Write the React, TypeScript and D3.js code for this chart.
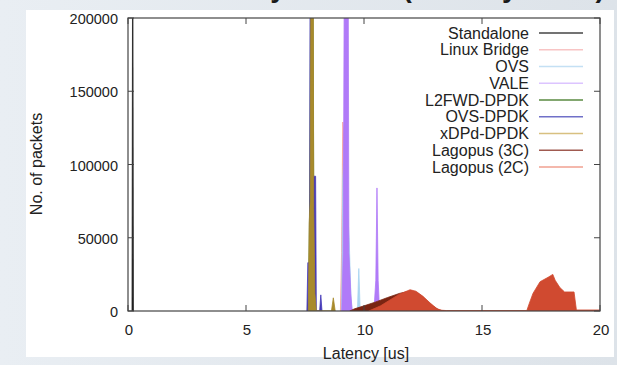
import { useEffect, useRef } from 'react';
import * as d3 from 'd3';

type Pt = [number, number];

// latency [us], packets
const standalone: Pt[] = [[0.17, 0], [0.2, 300000], [0.23, 0]];
const linuxBridge: Pt[] = [[9.0, 0], [9.05, 40000], [9.1, 129000], [9.16, 120000], [9.25, 30000], [9.35, 0]];
const ovs: Pt[] = [
  [9.05, 0], [9.1, 90000], [9.2, 128000], [9.3, 70000], [9.37, 50000], [9.45, 8000], [9.5, 0],
  [9.72, 0], [9.78, 29000], [9.84, 0],
];
const vale: Pt[] = [
  [9.06, 0], [9.12, 40000], [9.18, 300000], [9.32, 300000], [9.36, 40000], [9.44, 12000], [9.5, 0],
  [10.42, 0], [10.5, 21000], [10.55, 84000], [10.6, 21000], [10.66, 0],
];
const l2fwd: Pt[] = [[7.64, 0], [7.7, 80000], [7.76, 300000], [7.82, 300000], [7.88, 40000], [7.94, 0]];
const ovsDpdk: Pt[] = [
  [7.58, 0], [7.62, 33000], [7.7, 33000], [7.72, 300000], [7.8, 300000], [7.82, 92000], [7.95, 92000], [7.98, 0],
  [8.12, 0], [8.17, 11000], [8.22, 0],
];
const xdpd: Pt[] = [
  [7.64, 0], [7.68, 60000], [7.72, 75000], [7.76, 300000], [7.84, 300000], [7.87, 70000], [7.92, 12000], [7.98, 0],
  [8.62, 0], [8.7, 9000], [8.78, 0],
];
const lagopus3c: Pt[] = [
  [9.4, 0], [9.6, 1500], [10, 3500], [10.5, 6200], [11, 9200], [11.5, 12000], [12, 13800], [12.3, 12000],
  [12.6, 8000], [12.9, 3500], [13.2, 500], [13.4, 0],
];
const lagopus2c: Pt[] = [
  [10.2, 0], [10.7, 3500], [11.1, 7500], [11.5, 11500], [11.8, 13500], [11.95, 14500], [12.2, 13500], [12.5, 10000],
  [12.8, 5500], [13.1, 1500], [13.3, 500], [13.5, 300], [16.9, 300], [17.0, 5000], [17.16, 12000], [17.46, 20000],
  [17.8, 23000], [18.0, 25000], [18.1, 21000], [18.3, 16000], [18.5, 13000], [18.9, 13000], [19.0, 700], [20, 700],
];

const seriesNames = ['Standalone', 'Linux Bridge', 'OVS', 'VALE', 'L2FWD-DPDK', 'OVS-DPDK', 'xDPd-DPDK', 'Lagopus (3C)', 'Lagopus (2C)'];
const seriesData = [standalone, linuxBridge, ovs, vale, l2fwd, ovsDpdk, xdpd, lagopus3c, lagopus2c];
const fillColors = ['#222222', '#f4a0a0', '#a8d4f0', '#b07af8', '#4a7a2a', '#4438b8', '#a88a2c', '#7a2412', '#d04a30'];
const legendColors = ['#444444', '#f8c4c4', '#c4e0f4', '#dcc4ff', '#5a8a40', '#7070c8', '#d8c080', '#a05a50', '#f0a090'];

const xTicks = [0, 5, 10, 15, 20];
const yTicks = [0, 50000, 100000, 150000, 200000];

export default function App() {
  const svgRef = useRef<SVGSVGElement>(null);
  const width = 617;
  const height = 365;

  useEffect(() => {
    if (!svgRef.current) return;
    const svg = d3.select(svgRef.current);
    svg.selectAll('*').remove();

    const left = 128, right = 600, top = 18, bottom = 311;
    const x = d3.scaleLinear().domain([0, 20]).range([left, right]);
    const y = d3.scaleLinear().domain([0, 200000]).range([bottom, top]);
    const font = '"Liberation Sans", Arial, sans-serif';

    // slide background
    const defs = svg.append('defs');
    const grad = defs.append('linearGradient').attr('id', 'bg');
    grad.append('stop').attr('offset', '0%').attr('stop-color', '#e9eef3');
    grad.append('stop').attr('offset', '100%').attr('stop-color', '#dde3e9');
    svg.append('rect').attr('width', width).attr('height', height).attr('fill', 'url(#bg)');
    svg.append('rect').attr('x', 26).attr('y', 10).attr('width', 588).attr('height', 347).attr('fill', '#fff');

    // slide title, mostly above the visible area
    svg.append('text')
      .attr('x', 180).attr('y', -3)
      .style('font-family', font).style('font-weight', 'bold').style('font-size', '28px').style('fill', '#1a1a1a')
      .text('Latency Results (Latency in 1G)');

    defs.append('clipPath').attr('id', 'plot')
      .append('rect').attr('x', left).attr('y', top).attr('width', right - left).attr('height', bottom - top);

    const area = d3.area<Pt>().x((d) => x(d[0])).y0(y(0)).y1((d) => y(d[1]));
    const g = svg.append('g').attr('clip-path', 'url(#plot)');
    seriesData.forEach((data, i) => {
      g.append('path')
        .attr('d', area(data) as string)
        .attr('fill', fillColors[i])
        .attr('stroke', fillColors[i])
        .attr('stroke-width', 0.8);
    });

    // frame
    svg.append('rect').attr('x', left).attr('y', top).attr('width', right - left).attr('height', bottom - top)
      .attr('fill', 'none').attr('stroke', '#444').attr('stroke-width', 1.2);

    const axes = svg.append('g').attr('stroke', '#444').attr('stroke-width', 1);
    xTicks.forEach((t) => {
      axes.append('line').attr('x1', x(t)).attr('x2', x(t)).attr('y1', bottom).attr('y2', bottom - 6);
      axes.append('line').attr('x1', x(t)).attr('x2', x(t)).attr('y1', top).attr('y2', top + 6);
    });
    yTicks.forEach((t) => {
      axes.append('line').attr('x1', left).attr('x2', left + 6).attr('y1', y(t)).attr('y2', y(t));
      axes.append('line').attr('x1', right).attr('x2', right - 6).attr('y1', y(t)).attr('y2', y(t));
    });

    svg.append('g').selectAll('text').data(xTicks).join('text')
      .attr('x', (d) => x(d) + 1).attr('y', 335)
      .style('font-family', font).style('font-size', '15px').style('fill', '#222')
      .style('text-anchor', 'middle').text((d) => d);
    svg.append('g').selectAll('text').data(yTicks).join('text')
      .attr('x', left - 10).attr('y', (d) => y(d) + 6)
      .style('font-family', font).style('font-size', '14.5px').style('fill', '#222')
      .style('text-anchor', 'end').text((d) => d);

    svg.append('text')
      .attr('x', 366).attr('y', 359)
      .style('font-family', font).style('font-size', '16px').style('fill', '#222')
      .style('text-anchor', 'middle').text('Latency [us]');
    svg.append('text')
      .attr('transform', `translate(42,164) rotate(-90)`)
      .style('font-family', font).style('font-size', '16px').style('fill', '#222')
      .style('text-anchor', 'middle').text('No. of packets');

    const legend = svg.append('g');
    seriesNames.forEach((name, i) => {
      const ly = 33 + i * 16.75;
      legend.append('text')
        .attr('x', 529).attr('y', ly + 5.5)
        .style('font-family', font).style('font-size', '16px').style('fill', '#222')
        .style('text-anchor', 'end').text(name);
      legend.append('line')
        .attr('x1', 539).attr('x2', 583).attr('y1', ly).attr('y2', ly)
        .attr('stroke', legendColors[i]).attr('stroke-width', 1.5);
    });
  }, []);

  return (
    <svg
      ref={svgRef}
      width={width}
      height={height}
      style={{ position: 'absolute', left: 0, top: 0, display: 'block' }}
    ></svg>
  );
}
